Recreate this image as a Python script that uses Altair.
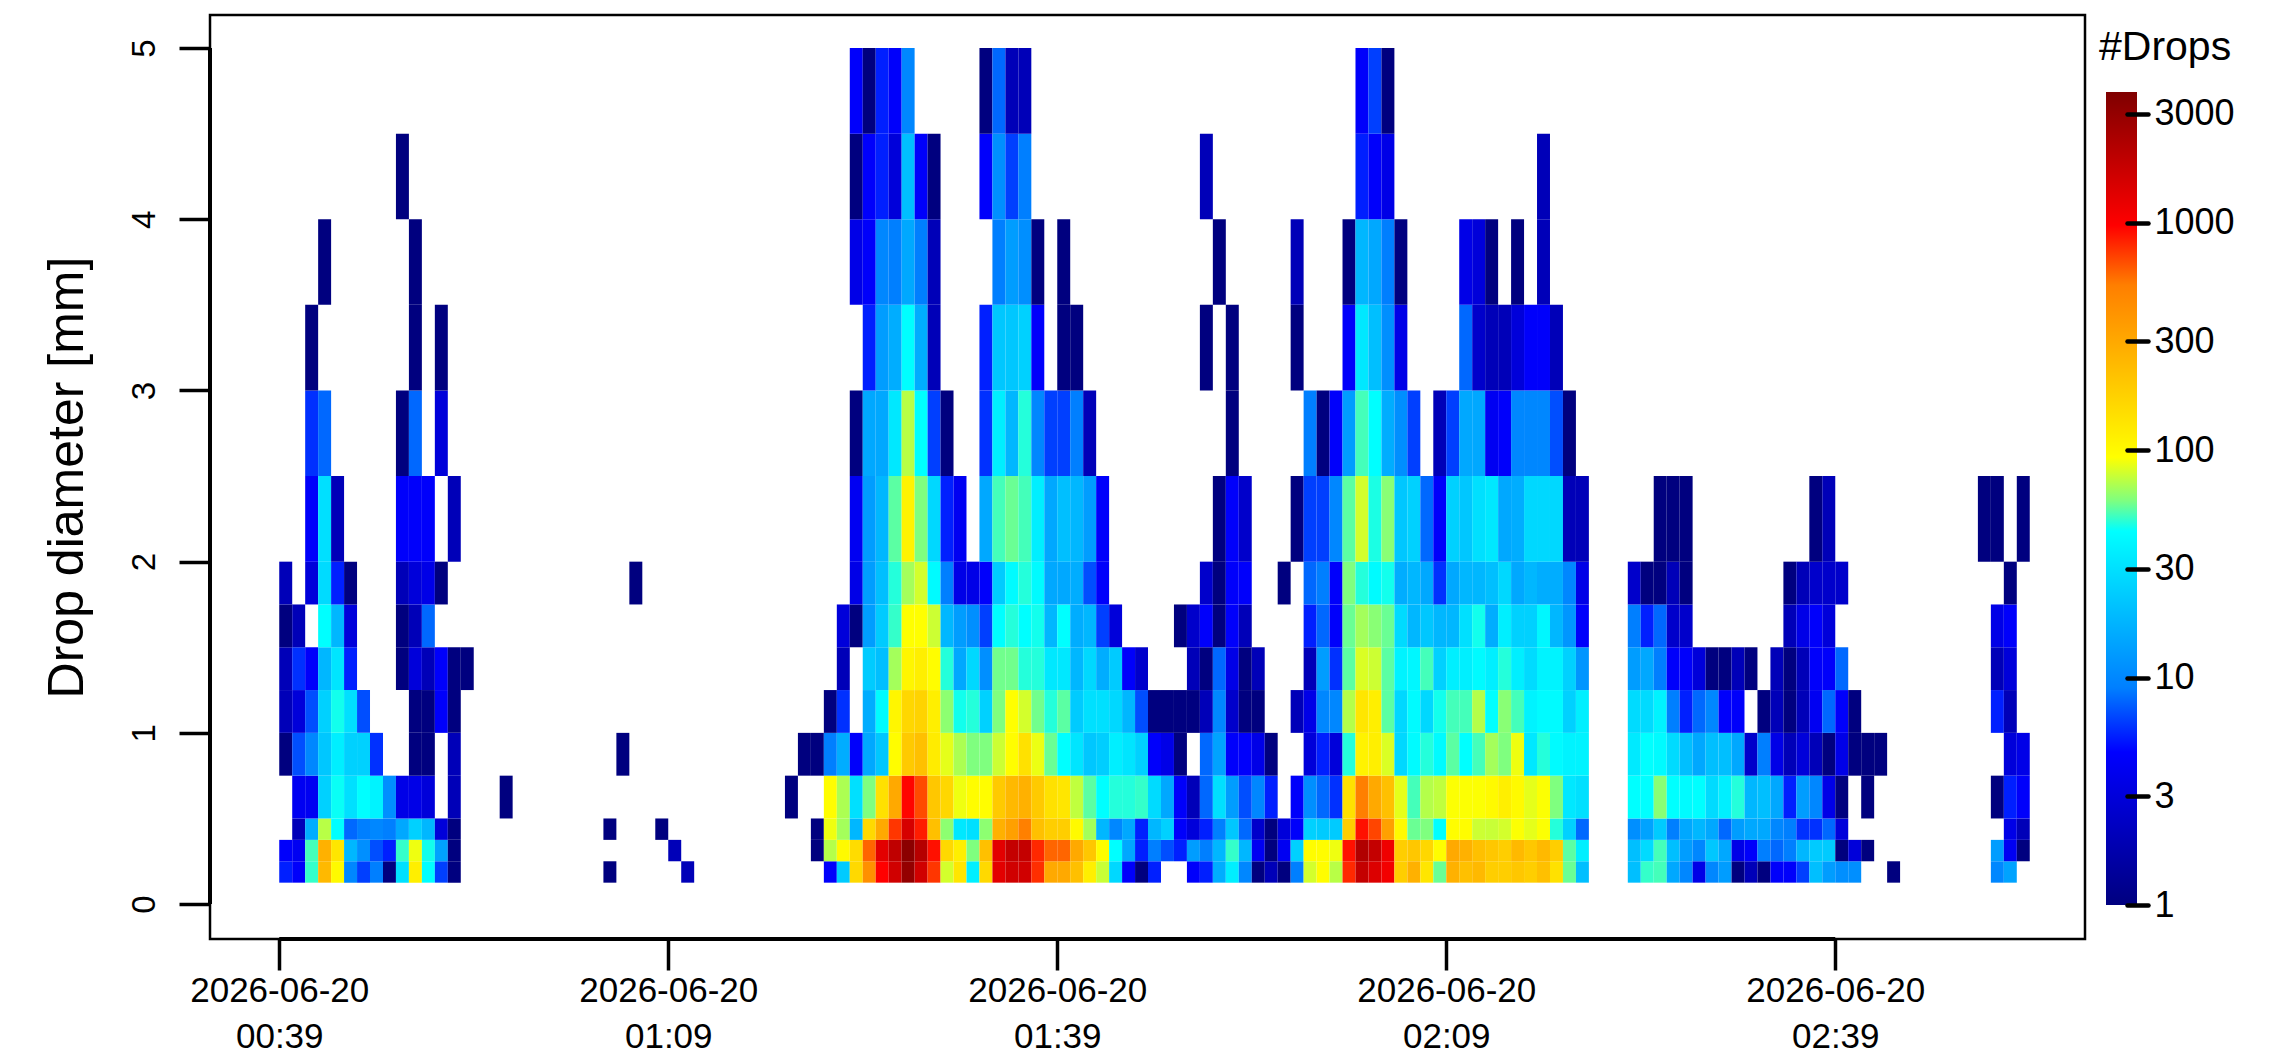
import math
import altair as alt
import pandas as pd

# Diameter class edges (mm), bottom to top
edges = [0.125, 0.25, 0.375, 0.5, 0.75, 1, 1.25, 1.5, 1.75, 2, 2.5, 3, 3.5, 4, 4.5, 5]

# Drop counts per diameter class, keyed by minute after 00:39
row_00 = {0:5.5,1:4.5,2:50,3:240,4:100,5:10,6:6.5,7:9,8:1,9:30,10:115,11:44,12:6.5,13:1,25:1,31:2,
42:4.5,43:23,44:156,45:420,46:970,47:1600,48:3000,49:1600,50:750,51:80,52:130,53:36,54:156,55:1300,56:1600,57:1600,58:780,59:300,60:300,61:220,62:115,63:77,64:27,65:4.5,66:1,67:5.5,
70:4.5,71:5.5,72:16,73:36,74:10,75:1,76:2,77:1,78:9,79:80,80:95,81:73,82:800,83:1800,84:1400,85:1100,86:180,87:270,88:130,89:57,90:270,91:220,92:240,93:180,94:180,95:200,96:180,97:220,98:140,99:57,100:20,
104:20,105:50,106:52,107:15,108:10,109:3.5,110:10,111:13,112:1,113:2,114:1,115:4.5,116:4.5,117:6.5,118:20,119:13,120:11,121:11,124:1,132:10,133:14}
row_01 = {0:4.5,1:4,2:52,3:270,4:130,5:18,6:11,7:7,8:5.5,9:50,10:88,11:46,12:14,13:1,30:2,
41:1,42:72,43:100,44:150,45:600,46:1300,47:1900,48:3300,49:2100,50:900,51:156,52:115,53:60,54:220,55:1300,56:1800,57:1800,58:800,59:600,60:600,61:300,62:200,63:95,64:44,65:15,66:5.5,67:9,68:7,69:5.5,70:13,71:9,72:18,73:50,74:18,75:4,76:1,77:4,78:25,
79:95,80:95,81:88,82:900,83:2200,84:1800,85:1150,86:180,87:200,88:160,89:95,90:300,91:270,92:220,93:200,94:180,95:240,96:200,97:240,98:180,99:55,100:36,
104:20,105:28,106:52,107:20,108:13,109:10,110:22,111:15,112:3.5,113:4.5,114:9,115:8,116:9,117:18,118:23,119:23,120:1,121:3,122:1,132:13,133:4,134:1}
row_02 = {1:2,2:16,3:73,4:44,5:8,6:9,7:10,8:9,9:15,10:25,11:18,12:3,13:1,25:1,29:1,
41:1,42:88,43:68,44:18,45:156,46:300,47:750,48:1500,49:850,50:220,51:63,52:33,53:30,54:63,55:270,56:340,57:520,58:220,59:180,60:180,61:100,62:68,63:18,64:10,65:15,66:5.5,67:18,68:25,69:4.5,70:3,71:5.5,72:9,73:22,74:8,75:2.5,76:1,77:3,78:4.5,
79:25,80:23,81:23,82:180,83:900,84:700,85:340,86:100,87:57,88:60,89:44,90:95,91:95,92:78,93:77,94:80,95:92,96:85,97:92,98:48,99:25,100:8,
104:11,105:14,106:23,107:9,108:15,109:18,110:15,111:8,112:13,113:15,114:15,115:10,116:9,117:6,118:6,119:8,120:3,133:3.5,134:2}
row_03 = {1:4,2:4,3:25,4:45,5:30,6:44,7:38,8:11,9:3.5,10:3.5,11:3,13:2,17:1,39:1,
42:95,43:70,44:30,45:60,46:140,47:300,48:950,49:680,50:200,51:160,52:88,53:95,54:95,55:190,56:240,57:270,58:190,59:140,60:130,61:75,62:55,63:44,64:48,65:48,66:50,67:28,68:15,69:4.5,70:2,71:8,72:30,73:13,74:7,75:10,76:5.5,78:4.5,
79:11,80:8,81:6,82:140,83:530,84:300,85:220,86:85,87:52,88:72,89:75,90:92,91:92,92:92,93:100,94:115,95:100,96:85,97:92,98:60,99:33,100:30,
104:44,105:44,106:62,107:44,108:42,109:44,110:28,111:36,112:48,113:18,114:20,115:15,116:5.5,117:13,118:10,119:3.5,120:1,122:1,132:1,133:5.5,134:4.5}
row_04 = {0:1,1:7,2:10,3:22,4:36,5:25,6:25,7:6,10:1,11:1,13:2,26:1,
40:1,41:1,42:9,43:16,44:4.5,45:15,46:22,47:95,48:190,49:220,50:120,51:85,52:70,53:60,54:60,55:78,56:95,57:140,58:87,59:57,60:44,61:32,62:22,63:24,64:36,65:32,66:25,67:4.5,68:3.5,69:1,71:8,72:14,73:4.5,74:4.5,75:3.5,76:1,
79:3,80:5.5,81:3,82:48,83:110,84:115,85:82,86:27,87:42,88:48,89:42,90:55,91:44,92:52,93:68,94:60,95:88,96:33,97:48,98:42,99:38,100:38,
104:34,105:44,106:42,107:28,108:20,109:15,110:20,111:20,112:15,113:2.5,114:9,115:3.5,116:2,117:3,118:2,119:1,120:3.5,121:1,122:1,123:1,133:3,134:3.5}
row_05 = {0:2,1:3,2:7,3:25,4:46,5:30,6:7,10:1,11:1,12:4.5,13:1,
42:1,43:6,45:16,46:42,47:105,48:160,49:170,50:115,51:63,52:46,53:48,54:25,55:60,56:93,57:80,58:58,59:48,60:55,61:23,62:30,63:30,64:27,65:18,66:7,67:1,68:1,69:1,70:1,71:2,72:10,73:2.5,74:1,75:1,78:2,
79:3.5,80:10,81:10,82:72,83:130,84:115,85:55,86:27,87:42,88:27,89:46,90:52,91:52,92:72,93:44,94:62,95:52,96:38,97:42,98:42,99:25,100:36,
104:28,105:28,106:38,107:9,108:5.5,109:8,110:10,111:4.5,112:4.5,114:1,115:2,116:1,117:2,118:4,119:8,120:4.5,121:1,132:5.5,133:2}
row_06 = {0:2,1:6,2:4.5,3:18,4:32,5:5.5,9:1,10:3,11:2,12:4.5,13:1,14:1,
43:2,45:23,46:20,47:68,48:105,49:115,50:95,51:48,52:15,53:27,54:11,55:58,56:58,57:48,58:48,59:33,60:33,61:18,62:27,63:16,64:23,65:4.5,66:2.5,70:2,71:1,72:8,73:3.5,74:1,75:2,
79:2,80:13,81:6,82:55,83:82,84:78,85:55,86:38,87:40,88:52,89:25,90:36,91:36,92:42,93:36,94:48,95:36,96:28,97:38,98:38,99:25,100:12,
104:13,105:15,106:9,107:4.5,108:4.5,109:3,110:1,111:1,112:2,113:1,115:2,116:1,117:2,118:4.5,119:4.5,120:8,132:2,133:3}
row_07 = {0:1,1:2,3:44,4:18,5:3,9:1,10:2,11:8,
43:3,44:1,45:13,46:23,47:50,48:93,49:93,50:78,51:18,52:13,53:11,54:6.5,55:44,56:48,57:44,58:46,59:18,60:44,61:16,62:18,63:6.5,64:3,69:1,70:2.5,71:4.5,72:1,73:4.5,74:2,
79:5.5,80:8,81:4.5,82:57,83:68,84:62,85:57,86:28,87:18,88:22,89:18,90:18,91:30,92:46,93:16,94:36,95:25,96:25,97:40,98:18,99:12,100:4.5,
104:9,105:5.5,106:8,107:2.5,108:2.5,116:2,117:3.5,118:4.5,119:3,132:3.5,133:4.5}
row_08 = {0:2,2:3,3:28,4:5.5,5:1,9:2,10:3,11:3.5,12:1,27:1,
44:3.5,45:13,46:20,47:48,48:68,49:80,50:42,51:9,52:3.5,53:3.5,54:4.5,55:23,56:42,57:48,58:42,59:15,60:15,61:16,62:7,63:4.5,71:2.5,72:1,73:4.5,74:4.5,77:1,
79:8,80:9,81:4.5,82:60,83:48,84:42,85:46,86:16,87:18,88:15,89:6,90:15,91:18,92:18,93:20,94:27,95:15,96:18,97:16,98:16,99:10,100:3.5,
104:2.5,105:1,106:1,107:2,108:1,116:1,117:2,118:2.5,119:2.5,120:2.5,133:1}
row_09 = {2:4.5,3:30,4:2,9:4.5,10:4.5,11:4.5,13:2,
44:4,45:13,46:18,47:55,48:110,49:60,50:27,51:5.5,52:4,54:15,55:52,56:57,57:52,58:36,59:15,60:20,61:18,62:13,63:4.5,72:1,73:4.5,74:2.5,78:1,
79:6.5,80:6.5,81:10,82:55,83:80,84:47,85:62,86:22,87:25,88:8,89:4.5,90:25,91:22,92:30,93:33,94:15,95:16,96:27,97:27,98:27,99:2,100:2,
106:1,107:1,108:1,118:1,119:2,131:1,132:1,134:1}
row_10 = {2:6,3:8,9:1,10:8,12:3,
44:1,45:15,46:15,47:33,48:73,49:44,50:6.5,51:1,54:6,55:36,56:18,57:48,58:10,59:6.5,60:6.5,61:9,62:2,73:1,
79:9,80:1,81:4.5,82:13,83:52,84:44,85:16,86:11,87:6.5,89:2,90:6.5,91:15,92:15,93:4,94:4.5,95:10,96:10,97:10,98:7,99:1}
row_11 = {2:1,10:1,12:1,
45:5.5,46:13,47:16,48:44,49:16,50:2,54:5.5,55:22,56:22,57:25,58:4.5,60:1,61:1,71:1,73:1,78:1,
82:4.5,83:33,84:20,85:11,86:3.5,91:8,92:2.5,93:2,94:2,95:3,96:4.5,97:4.5,98:2}
row_12 = {3:1,10:1,
44:3.5,45:4.5,46:10,47:9,48:15,49:9,50:2,55:9,56:13,57:11,58:1,60:1,72:1,78:2,
82:1,83:18,84:15,85:9,86:1,91:3.5,92:3,93:1,95:1,97:2}
row_13 = {9:1,
44:1,45:4.5,46:5.5,47:3,48:20,49:4.5,50:1,54:4.5,55:11,56:6.5,57:9,71:2,
83:5.5,84:4.5,85:3.5,97:2}
row_14 = {44:4.5,45:1,46:5.5,47:4.5,48:10,54:1,55:8,56:2,57:2,
83:4.5,84:6.5,85:1}

rows = [row_00, row_01, row_02, row_03, row_04, row_05, row_06, row_07,
        row_08, row_09, row_10, row_11, row_12, row_13, row_14]

# Colour ramp anchors
ramp_values = [1, 4.7, 9, 44, 60, 93, 530, 970, 3750]
ramp_colors = ["#00007f", "#0000ff", "#007fff", "#00ffff", "#7fff7f",
               "#ffff00", "#ff7f00", "#ff0000", "#7f0000"]

bar_ticks = [1, 3, 10, 30, 100, 300, 1000, 3000]
y_ticks = [0, 1, 2, 3, 4, 5]
x_ticks = [0, 30, 60, 90, 120]
x_dates = ["2026-06-20"] * 5
x_times = ["00:39", "01:09", "01:39", "02:09", "02:39"]

records = []
for r, row in enumerate(rows):
    for col, v in row.items():
        records.append({"t0": col, "t1": col + 1, "d0": edges[r], "d1": edges[r + 1], "drops": v})
df = pd.DataFrame(records)

BLACK = "#000000"
FONT = "Liberation Sans"
W, H = 1875, 924

label_table = "[" + ",".join(f"['{d}','{t}']" for d, t in zip(x_dates, x_times)) + "]"

x_scale = alt.Scale(domain=[-5.34, 139.26], nice=False, zero=False)
y_scale = alt.Scale(domain=[-0.204, 5.193], nice=False, zero=False)

cells = alt.Chart(df).mark_rect().encode(
    x=alt.X("t0:Q", scale=x_scale, axis=alt.Axis(
        values=x_ticks, title=None, grid=False, domain=False, tickSize=31, tickWidth=3.5,
        tickColor=BLACK, labelFont=FONT, labelFontSize=35, labelColor=BLACK, labelPadding=3,
        labelExpr=f"{label_table}[datum.value/30]", labelLineHeight=46, labelOverlap=False,
        labelFlush=False)),
    x2="t1:Q",
    y=alt.Y("d0:Q", scale=y_scale, axis=alt.Axis(
        values=y_ticks, title="Drop diameter [mm]", titleFont=FONT, titleFontSize=50,
        titleFontWeight="normal", titleColor=BLACK, titlePadding=36,
        grid=False, domain=False, tickSize=31, tickWidth=3.5, tickColor=BLACK,
        labelFont=FONT, labelFontSize=33, labelColor=BLACK, labelAngle=270, labelAlign="center",
        labelBaseline="bottom", labelPadding=18, format="d")),
    y2="d1:Q",
    color=alt.Color("drops:Q", legend=None, scale=alt.Scale(
        type="log", domain=ramp_values, range=ramp_colors, interpolate="rgb")),
)

x_line = alt.Chart(pd.DataFrame({"a": [x_ticks[0]], "b": [x_ticks[-1]]})).mark_rule(
    color=BLACK, strokeWidth=4).encode(x="a:Q", x2="b:Q", y=alt.value(H))
y_line = alt.Chart(pd.DataFrame({"a": [y_ticks[0]], "b": [y_ticks[-1]]})).mark_rule(
    color=BLACK, strokeWidth=4).encode(y="a:Q", y2="b:Q", x=alt.value(0))

main = alt.layer(cells, x_line, y_line).properties(
    width=W, height=H, view=alt.ViewBackground(stroke=BLACK, strokeWidth=2.5))

lo, hi = ramp_values[0], ramp_values[-1]
stops = [alt.GradientStop(color=c, offset=math.log(v / lo) / math.log(hi / lo))
         for v, c in zip(ramp_values, ramp_colors)]
bar_df = pd.DataFrame({"lo": [lo], "hi": [hi]})
bar_scale = alt.Scale(type="log", domain=[0.709, 8170], nice=False)

bar = alt.Chart(bar_df).mark_rect(
    color=alt.LinearGradient(gradient="linear", stops=stops, x1=0, x2=0, y1=1, y2=0)
).encode(
    x=alt.value(0), x2=alt.value(31),
    y=alt.Y("lo:Q", scale=bar_scale, axis=alt.Axis(
        orient="right", values=bar_ticks, title=None, grid=False, domain=False, offset=-10,
        tickSize=21, tickWidth=4.5, tickCap="round", tickColor=BLACK, labelFont=FONT,
        labelFontSize=36, labelColor=BLACK, labelPadding=6, format="d", zindex=1)),
    y2="hi:Q",
)
bar_title = alt.Chart(bar_df).mark_text(
    text="#Drops", font=FONT, fontSize=41, align="left", baseline="middle", color=BLACK
).encode(x=alt.value(-7), y=alt.value(33))

legend = alt.layer(bar, bar_title).properties(width=31, height=H)

chart = alt.hconcat(main, legend, spacing=11).resolve_scale(color="independent").properties(
    padding={"left": 32, "top": 5, "right": 5, "bottom": 5}
).configure_view(stroke="transparent")

chart.save("out.html", embed_options={"renderer": "svg", "actions": False})
